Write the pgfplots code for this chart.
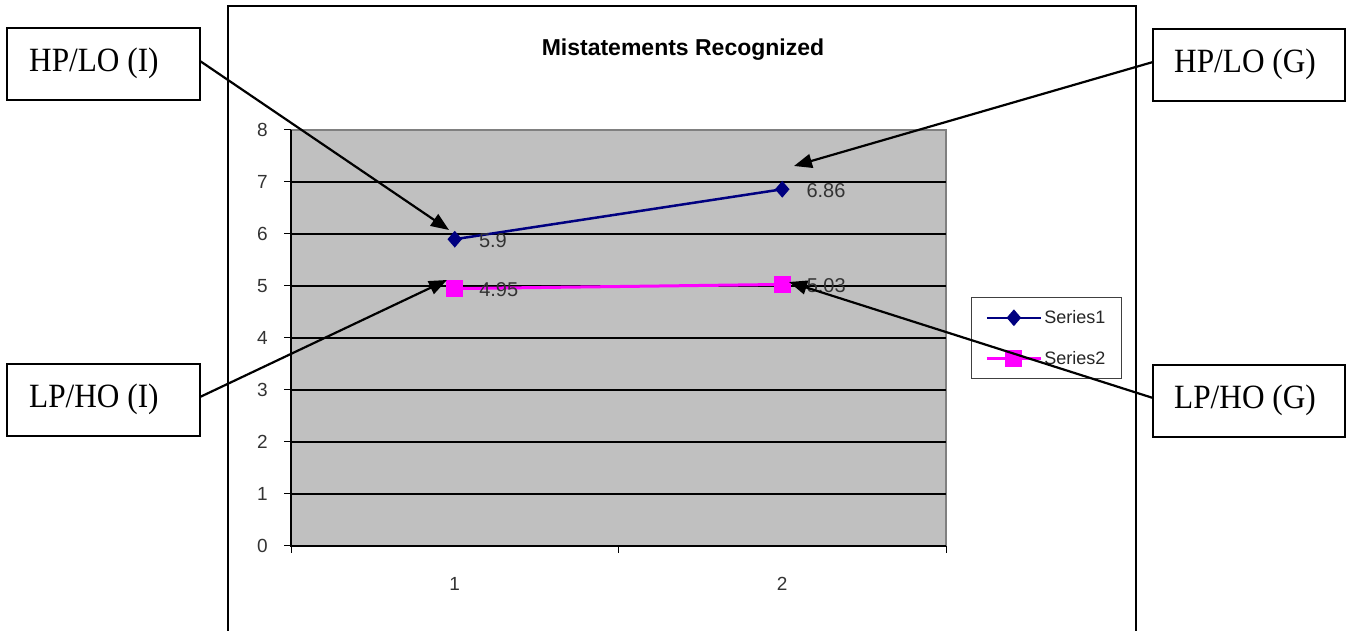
\documentclass[border=0pt]{standalone}
\usepackage{fontspec}
\setmainfont{Liberation Sans}
\newfontfamily\boxfont[FakeStretch=0.92]{Liberation Serif}
\usepackage{pgfplots}
\pgfplotsset{compat=1.18}
\usetikzlibrary{arrows.meta}
\definecolor{xlnavy}{RGB}{0,0,128}
\definecolor{xlmagenta}{RGB}{255,0,255}
\definecolor{xlgray}{RGB}{192,192,192}
\definecolor{xlborder}{RGB}{128,128,128}

\begin{document}
\begin{tikzpicture}[x=1pt,y=1pt]
\path[use as bounding box] (0,0) rectangle (1348,631);
\clip (0,0) rectangle (1348,631);

% outer chart frame (runs off the bottom)
\draw[line width=2pt] (228,-5) -- (228,625) -- (1136,625) -- (1136,-5);

\begin{axis}[
  at={(291pt,85pt)}, anchor=south west,
  scale only axis, width=655pt, height=416pt,
  xmin=0.5, xmax=2.5, ymin=0, ymax=8,
  clip=false,
  axis background/.style={fill=xlgray, draw=xlborder, line width=1.3pt},
  axis line style={draw=none},
  xtick={1,2}, minor xtick={0.5,1.5,2.5},
  ytick={0,...,7}, extra y ticks={8}, extra y tick style={grid=none},
  tick pos=left, tick align=outside,
  major tick length=7pt, minor tick length=7pt,
  major x tick style={draw=none},
  tick style={black, line width=1pt},
  ymajorgrids, major grid style={black, line width=1.3pt},
  tick label style={font=\fontsize{19}{22}\selectfont, text=black!80},
  /pgf/number format/assume math mode=true,
  yticklabel style={anchor=east, inner sep=0pt, xshift=-16pt},
  xticklabel style={anchor=north, inner sep=0pt, yshift=-24pt},
  title={Mistatements Recognized},
  title style={at={(axis description cs:0.5985,1.1635)}, anchor=base, yshift=0pt,
    font=\fontsize{23}{27}\selectfont\bfseries},
  legend style={at={(axis description cs:1.038,0.5986)}, anchor=north west,
    draw=black!75, line width=1pt, fill=white, inner xsep=14pt, inner ysep=11pt,
    row sep=22pt, font=\fontsize{18}{21}\selectfont, text=black!85},
  legend cell align=left,
  legend image code/.code={\draw[mark repeat=2, mark phase=2, #1]
    plot coordinates {(0pt,0pt) (27pt,0pt) (54pt,0pt)};},
  every node near coord/.append style={anchor=west, xshift=23pt, yshift=-1.5pt,
    inner sep=0pt, font=\fontsize{20}{24}\selectfont, text=black!80},
]
  \addplot[xlnavy, line width=2.5pt, mark=diamond*, mark size=6.5pt,
    mark options={xscale=1.15},
    nodes near coords, point meta=explicit symbolic]
    coordinates {(1,5.9)[5.9] (2,6.86)[6.86]};
  \addplot[xlmagenta, line width=3pt, mark=square*, mark size=7pt,
    nodes near coords, point meta=explicit symbolic]
    coordinates {(1,4.95)[4.95] (2,5.03)[5.03]};
  \legend{Series1, Series2}
  \draw[black, line width=1.3pt] (rel axis cs:0,1) -- (rel axis cs:0,0) -- (rel axis cs:1,0);
\end{axis}

% callout boxes
\tikzset{callout/.style={anchor=base west, inner sep=0pt, font=\boxfont\fontsize{34}{40}\selectfont}}
\draw[line width=1.3pt, fill=white] (7,603) rectangle (200,531);
\node[callout] at (29,559) {HP/LO (I)};
\draw[line width=1.3pt, fill=white] (7,267) rectangle (200,195);
\node[callout] at (29,223) {LP/HO (I)};
\draw[line width=1.3pt, fill=white] (1153,602) rectangle (1345,530);
\node[callout] at (1174,558) {HP/LO (G)};
\draw[line width=1.3pt, fill=white] (1153,266) rectangle (1345,194);
\node[callout] at (1174,222) {LP/HO (G)};

% arrows
\tikzset{pointer/.style={line width=2.2pt, -{Triangle[length=18pt,width=14pt]}}}
\draw[pointer] (200,570) -- (449,401);
\draw[pointer] (1153,569) -- (794,465);
\draw[pointer] (200,234) -- (447,351);
\draw[pointer] (1153,233) -- (789,349);
\end{tikzpicture}
\end{document}
